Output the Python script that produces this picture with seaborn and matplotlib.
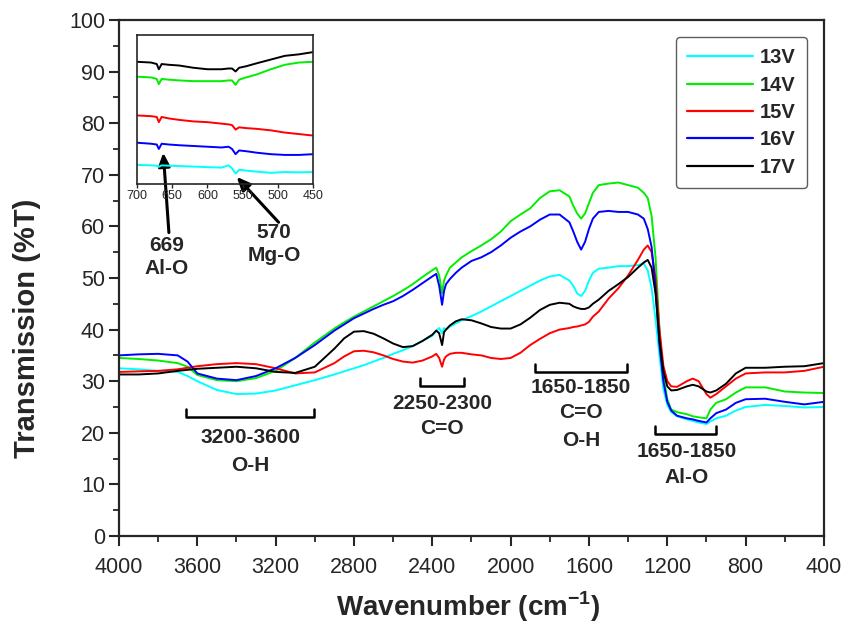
import numpy as np
import pandas as pd
import seaborn as sns
import matplotlib.pyplot as plt
from matplotlib.ticker import MultipleLocator

# wavenumbers (cm-1) for the main spectra
wn = [4000, 3900, 3800, 3700, 3650, 3600, 3500, 3400, 3300, 3200, 3100, 3000,
      2900, 2850, 2800, 2750, 2700, 2650, 2600, 2550, 2500, 2450, 2400, 2380,
      2365, 2350, 2340, 2330, 2310, 2280, 2250, 2200, 2150, 2100, 2050, 2000,
      1950, 1900, 1850, 1800, 1750, 1700, 1680, 1660, 1640, 1620, 1600, 1580,
      1550, 1500, 1450, 1400, 1350, 1320, 1300, 1280, 1260, 1240, 1220, 1200,
      1180, 1150, 1100, 1070, 1040, 1000, 980, 950, 900, 850, 800, 700, 600,
      500, 400]

t_13v = [32.5, 32.3, 32.0, 31.8, 31.0, 30.0, 28.3, 27.5, 27.6, 28.2, 29.2, 30.2,
         31.3, 31.9, 32.5, 33.1, 33.8, 34.5, 35.3, 36.0, 36.8, 37.8, 38.8, 39.8,
         40.3, 39.3, 40.3, 40.0, 40.6, 41.2, 41.8, 42.6, 43.5, 44.5, 45.5, 46.5,
         47.5, 48.5, 49.5, 50.3, 50.6, 49.5, 48.5, 47.0, 46.5, 47.5, 49.5, 51.0,
         51.8, 52.0, 52.3, 52.3, 52.5, 52.8, 51.5, 48.0, 42.0, 35.0, 28.5, 25.4,
         24.0, 23.2, 22.6, 22.3, 22.0, 21.7, 22.2, 22.8, 23.3, 24.3, 25.0, 25.4,
         25.2, 24.9, 25.0]

t_14v = [34.5, 34.3, 34.0, 33.5, 32.8, 31.2, 30.2, 30.0, 30.6, 32.0, 34.5, 37.5,
         40.2, 41.4, 42.5, 43.5, 44.5, 45.5, 46.5, 47.6, 48.8, 50.2, 51.5, 52.0,
         50.5, 47.0, 49.5, 50.5, 52.0, 53.0, 54.0, 55.2, 56.3, 57.5, 59.0, 61.0,
         62.3, 63.5, 65.5, 66.8, 67.0, 65.8, 64.0, 62.5, 61.5, 62.5, 64.5, 66.5,
         68.0, 68.3, 68.5, 68.0, 67.5, 66.5, 65.5, 62.0, 54.0, 40.0, 31.0, 26.5,
         24.5, 24.0, 23.6, 23.2, 23.0, 22.8, 24.5, 25.8, 26.5, 27.8, 28.8, 28.8,
         28.0, 27.8, 27.7]

t_15v = [31.8, 31.9, 32.0, 32.3, 32.6, 32.9, 33.3, 33.5, 33.3, 32.5, 31.5, 31.7,
         33.5, 34.8, 35.8, 35.9, 35.6, 35.0, 34.3, 33.8, 33.6, 34.0, 34.8, 35.3,
         34.5, 32.8, 34.2, 34.8, 35.3, 35.5, 35.5, 35.2, 35.0, 34.5, 34.3, 34.5,
         35.5, 37.0, 38.2, 39.3, 40.0, 40.3, 40.5, 40.6, 40.8, 41.0, 41.5, 42.5,
         43.5, 46.0, 48.0, 50.5, 53.5, 55.5, 56.3, 55.0, 50.0, 40.0, 33.0, 30.0,
         29.0, 28.9, 30.0, 30.5, 30.0, 27.5, 26.8, 27.5, 29.0, 30.5, 31.5, 31.7,
         31.7, 32.0, 32.8]

t_16v = [35.0, 35.2, 35.3, 35.0, 33.8, 31.5, 30.5, 30.2, 31.0, 32.5, 34.5, 37.0,
         39.8, 41.0, 42.2, 43.1, 44.0, 44.8, 45.5, 46.5, 47.7, 49.0, 50.3, 50.8,
         48.5, 44.8, 47.5, 48.8, 49.8, 51.0, 52.0, 53.3, 54.0, 55.0, 56.3, 57.8,
         59.0, 60.0, 61.3, 62.3, 62.3, 60.8, 59.0, 57.0, 55.5, 57.0, 59.5, 61.5,
         62.8, 63.0, 62.8, 62.8, 62.3, 61.5, 59.5, 56.0, 48.0, 37.0, 30.0, 26.0,
         24.3, 23.3, 22.8, 22.6, 22.3, 22.0, 22.8, 23.8, 24.5, 25.8, 26.5, 26.6,
         26.0, 25.5, 26.0]

t_17v = [31.3, 31.3, 31.5, 32.0, 32.2, 32.4, 32.6, 32.8, 32.5, 31.8, 31.6, 32.8,
         36.3, 38.3, 39.6, 39.7, 39.2, 38.3, 37.3, 36.6, 36.8, 37.8, 39.0, 39.8,
         39.3, 37.0, 39.5, 40.0, 40.8, 41.6, 42.0, 41.8, 41.2, 40.5, 40.2, 40.2,
         41.0, 42.3, 43.8, 44.8, 45.2, 45.0, 44.5, 44.2, 44.0, 44.0, 44.3, 45.0,
         45.8, 47.5, 48.8, 50.2, 52.0, 53.0, 53.5, 52.0, 47.0, 38.0, 32.0, 29.0,
         28.2, 28.3, 29.0, 29.3, 29.0, 28.0, 27.8, 28.2, 29.5, 31.5, 32.6, 32.6,
         32.8, 32.9, 33.5]

# inset (700-450 cm-1), offset scale
inset_wn = [700, 680, 672, 669, 665, 655, 640, 620, 600, 580, 570, 565, 560,
            555, 545, 530, 510, 490, 470, 450]
in_13v = [12.8, 12.5, 12.3, 11.5, 12.5, 12.3, 12.0, 11.7, 11.3, 11.0, 12.5, 10.5,
          7.0, 9.5, 9.0, 8.3, 7.5, 8.0, 7.8, 8.0]
in_14v = [72, 71.5, 70.5, 67, 70.5, 70, 69.5, 69, 69, 69, 69.5, 69.5, 66.5, 70,
          71.5, 73.5, 77, 80, 81.5, 82]
in_15v = [46, 45.5, 45, 41.5, 45, 44, 43, 42, 41.5, 40.5, 40, 39.5, 36.5, 38,
          37.5, 37, 36, 34.5, 33.5, 32.5]
in_16v = [27.7, 27, 26.5, 23.5, 27, 26.5, 26, 25.5, 25, 24.5, 25, 23.5, 20, 22.5,
          22, 21, 20, 19.5, 19.5, 20]
in_17v = [82, 81.5, 80.5, 77, 80.5, 80, 79.5, 78, 77, 77, 77.5, 77.5, 75.5, 78,
          79, 81, 83.5, 86, 87, 88.5]

samples = ['13V', '14V', '15V', '16V', '17V']
colors = ['#00ffff', '#00ee00', '#ff0000', '#0000ff', '#000000']

# band brackets: (left, right, y)
brackets = [(3658, 3004, 23.1), (2463, 2238, 29.1), (1875, 1405, 31.8), (1262, 950, 19.8)]
band_text = [
    (3330, 19.0, '3200-3600'), (3330, 13.6, 'O-H'),
    (2350, 25.6, '2250-2300'), (2350, 20.9, 'C=O'),
    (1640, 28.7, '1650-1850'), (1640, 23.9, 'C=O'), (1640, 18.5, 'O-H'),
    (1100, 16.3, '1650-1850'), (1100, 11.3, 'Al-O'),
]
peak_text = [(3755, 56.3, '669'), (3758, 51.8, 'Al-O'),
             (3208, 58.9, '570'), (3208, 54.4, 'Mg-O')]

main_df = pd.DataFrame({
    'wn': wn * 5,
    'T': t_13v + t_14v + t_15v + t_16v + t_17v,
    'sample': [s for s in samples for _ in wn],
})
inset_df = pd.DataFrame({
    'wn': inset_wn * 5,
    'T': in_13v + in_14v + in_15v + in_16v + in_17v,
    'sample': [s for s in samples for _ in inset_wn],
})

sns.set_style('ticks')
plt.rcParams['font.family'] = ['Liberation Sans', 'DejaVu Sans']
plt.rcParams['mathtext.fontset'] = 'custom'
plt.rcParams['mathtext.bf'] = 'Liberation Sans:bold'
plt.rcParams['mathtext.rm'] = 'Liberation Sans'

fig = plt.figure(figsize=(8.59, 6.29), dpi=100)
ax = fig.add_axes([0.1385, 0.1479, 0.8207, 0.8203])

sns.lineplot(data=main_df, x='wn', y='T', hue='sample', palette=colors,
             estimator=None, linewidth=1.4, ax=ax)

ax.set_xlim(4000, 400)
ax.set_ylim(0, 100)
ax.xaxis.set_major_locator(MultipleLocator(400))
ax.xaxis.set_minor_locator(MultipleLocator(200))
ax.yaxis.set_major_locator(MultipleLocator(10))
ax.yaxis.set_minor_locator(MultipleLocator(5))
ax.tick_params(which='major', direction='out', length=7, width=1.5, labelsize=15.5, pad=3)
ax.tick_params(axis='x', which='major', pad=8)
ax.tick_params(which='minor', direction='out', length=4, width=1.3)
for sp in ax.spines.values():
    sp.set_linewidth(1.6)

ax.set_xlabel(r'Wavenumber (cm$^{\mathbf{-1}}$)', fontsize=20, fontweight='bold')
ax.xaxis.set_label_coords(0.495, -0.104)
ax.xaxis.label.set_va('top')
ax.set_ylabel('Transmission (%T)', fontsize=21, fontweight='bold')
ax.yaxis.set_label_coords(-0.11, 0.403)

leg = ax.legend(loc='upper right', bbox_to_anchor=(0.976, 0.967), borderaxespad=0,
                fontsize=14.5, handlelength=3.3, handletextpad=0.35,
                labelspacing=0.42, borderpad=0.55,
                frameon=True, fancybox=True, edgecolor='#333333')
for t in leg.get_texts():
    t.set_fontweight('bold')
for ln in leg.get_lines():
    ln.set_linewidth(1.6)
leg.get_frame().set_linewidth(1.0)

for x0, x1, y in brackets:
    ax.plot([x0, x0, x1, x1], [y + 1.6, y, y, y + 1.6], color='black', lw=1.8)
for x, y, s in band_text:
    ax.text(x, y, s, ha='center', va='center', fontsize=15, fontweight='bold')
for x, y, s in peak_text:
    ax.text(x, y, s, ha='center', va='center', fontsize=15, fontweight='bold')

# arrows pointing at the inset bands
arrow_kw = dict(arrowstyle='-|>,head_length=0.8,head_width=0.35', color='black',
                lw=2.2, shrinkA=0, shrinkB=0)
ax.annotate('', xy=(3774, 74.3), xytext=(3745, 58.8), arrowprops=arrow_kw)
ax.annotate('', xy=(3399, 69.6), xytext=(3185, 60.8), arrowprops=arrow_kw)

# inset
axin = fig.add_axes([0.1595, 0.7075, 0.2049, 0.2369])
axin.patch.set_visible(False)
sns.lineplot(data=inset_df, x='wn', y='T', hue='sample', palette=colors,
             estimator=None, linewidth=1.4, ax=axin, legend=False)
axin.set_xlim(700, 450)
axin.set_ylim(0, 100)
axin.set_xticks([700, 650, 600, 550, 500, 450])
axin.set_yticks([])
axin.set_xlabel('')
axin.set_ylabel('')
axin.tick_params(axis='x', direction='out', length=3, width=1, labelsize=9, pad=1.5)
for sp in axin.spines.values():
    sp.set_linewidth(1.2)

fig.savefig('out.png', dpi=100)
